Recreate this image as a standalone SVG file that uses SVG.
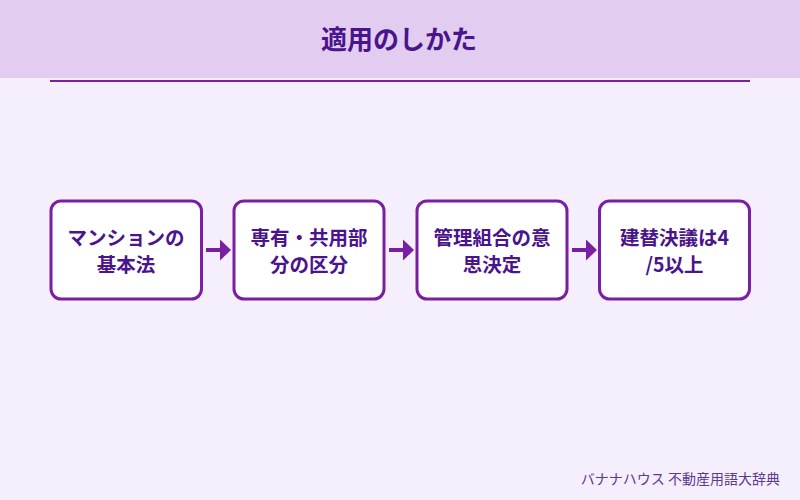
<svg xmlns="http://www.w3.org/2000/svg" width="800" height="500" viewBox="0 0 800 500">
<defs>
<style>
.bg{fill:#f5eefc}
.hdr{fill:#e2cdf0}
.rule{stroke:#7b1fa2;stroke-width:2}
.box{fill:#ffffff;stroke:#7b1fa2;stroke-width:3}
.t{font-family:"Noto Sans CJK JP","Noto Sans",sans-serif;font-weight:bold;font-size:19.5px;fill:#4a148c;text-anchor:middle}
.title{font-family:"Noto Sans CJK JP","Noto Sans",sans-serif;font-weight:bold;font-size:26px;fill:#4a148c;text-anchor:middle}
.foot{font-family:"Noto Sans CJK JP","Noto Sans",sans-serif;font-size:14px;fill:#5e3a8c;text-anchor:end}
.shaft{stroke:#7b1fa2;stroke-width:4}
.head{fill:#7b1fa2}
</style>
</defs>
<rect class="bg" x="0" y="0" width="800" height="500"/>
<rect class="hdr" x="0" y="0" width="800" height="78"/>
<line class="rule" x1="50" y1="81" x2="750" y2="81"/>
<text class="title" x="399" y="49">適用のしかた</text>
<g id="node1">
<rect class="box" x="51" y="201" width="150.5" height="98" rx="10"/>
<text class="t" x="126" y="244.5">マンションの</text>
<text class="t" x="126" y="271.5">基本法</text>
</g>
<g id="node2">
<rect class="box" x="234" y="201" width="150" height="98" rx="10"/>
<text class="t" x="309" y="244.5">専有・共用部</text>
<text class="t" x="309" y="271.5">分の区分</text>
</g>
<g id="node3">
<rect class="box" x="417" y="201" width="150" height="98" rx="10"/>
<text class="t" x="492" y="244.5">管理組合の意</text>
<text class="t" x="492" y="271.5">思決定</text>
</g>
<g id="node4">
<rect class="box" x="599.5" y="201" width="150" height="98" rx="10"/>
<text class="t" x="674.5" y="244.5">建替決議は4</text>
<text class="t" x="674.5" y="271.5">/5以上</text>
</g>
<g id="connectors">
<line class="shaft" x1="206" y1="250" x2="221" y2="250"/>
<polygon class="head" points="220,239.5 231,250 220,260.5"/>
<line class="shaft" x1="389" y1="250" x2="404" y2="250"/>
<polygon class="head" points="403,239.5 414,250 403,260.5"/>
<line class="shaft" x1="572" y1="250" x2="587" y2="250"/>
<polygon class="head" points="586,239.5 597,250 586,260.5"/>
</g>
<text class="foot" x="780" y="484">バナナハウス 不動産用語大辞典</text>
</svg>
